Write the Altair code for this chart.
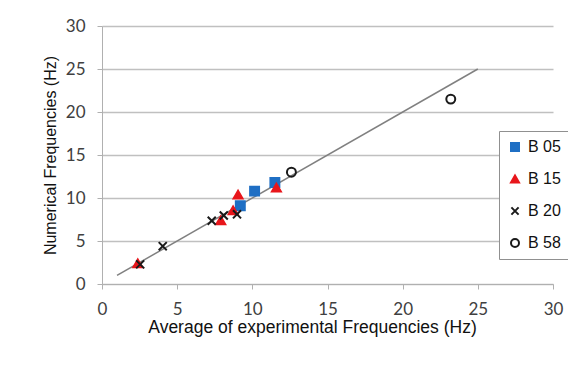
import altair as alt
import pandas as pd

# ---- data ----
series_names = ["B 05", "B 15", "B 20", "B 58"]
b05_x = [9.2, 10.15, 11.5]
b05_y = [9.1, 10.8, 11.8]
b15_x = [2.38, 7.9, 8.72, 9.05, 11.6]
b15_y = [2.4, 7.4, 8.55, 10.4, 11.2]
b20_x = [2.54, 4.04, 7.3, 8.1, 8.98]
b20_y = [2.28, 4.4, 7.35, 7.97, 8.1]
b58_x = [12.6, 23.2]
b58_y = [13.0, 21.5]
line_x = [1, 25]
line_y = [1, 25]
x_ticks = [0, 5, 10, 15, 20, 25, 30]
y_ticks = [0, 5, 10, 15, 20, 25, 30]

rows = []
for name, xs, ys in zip(series_names, [b05_x, b15_x, b20_x, b58_x], [b05_y, b15_y, b20_y, b58_y]):
    for a, b in zip(xs, ys):
        rows.append({"series": name, "x": a, "y": b})
pts = pd.DataFrame(rows)
ln = pd.DataFrame({"x": line_x, "y": line_y})

xcross = "M-0.9,-0.9L0.9,0.9M-0.9,0.9L0.9,-0.9"

xscale = alt.Scale(domain=[0, 30], nice=False)
yscale = alt.Scale(domain=[0, 30], nice=False)

xaxis = alt.Axis(values=x_ticks, grid=False, domainColor="#b0b0b0", tickColor="#b0b0b0",
                 tickSize=5, labelFont="Lato", labelFontSize=17, labelColor="#404040",
                 labelPadding=12, labelFlush=False,
                 title="Average of experimental Frequencies (Hz)",
                 titleFont="Liberation Sans", titleFontSize=17.5, titleFontWeight="normal",
                 titleColor="#111111", titleX=210, titleY=48, titleBaseline="alphabetic")
yaxis = alt.Axis(values=y_ticks, grid=True, gridColor="#c0c0c0", gridWidth=1.3,
                 domainColor="#b0b0b0", tickColor="#b0b0b0", tickSize=5,
                 labelFont="Lato", labelFontSize=17, labelColor="#404040", labelPadding=12,
                 labelFlush=False,
                 title="Numerical Frequencies (Hz)", titleFont="Liberation Sans",
                 titleFontSize=16, titleFontWeight="normal", titleColor="#111111",
                 titleX=-44, titleY=129, titleAngle=-90, titleBaseline="bottom")

line = alt.Chart(ln).mark_line(color="#808080", strokeWidth=1.5).encode(
    x=alt.X("x:Q", scale=xscale, axis=xaxis),
    y=alt.Y("y:Q", scale=yscale, axis=yaxis),
)

legend = alt.Legend(orient="none", legendX=397, legendY=105, title=None,
                    strokeColor="#909090", fillColor="white", padding=8,
                    labelFont="Liberation Sans", labelFontSize=16, labelColor="#111111",
                    rowPadding=16, symbolSize=64, symbolStrokeWidth=2, labelOffset=5)

points = alt.Chart(pts).mark_point(size=80, strokeWidth=2, opacity=1).encode(
    x=alt.X("x:Q", scale=xscale),
    y=alt.Y("y:Q", scale=yscale),
    shape=alt.Shape("series:N", scale=alt.Scale(domain=series_names,
                    range=["square", "triangle-up", xcross, "circle"]), legend=legend),
    fill=alt.Fill("series:N", scale=alt.Scale(domain=series_names,
                  range=["#1f6fc4", "#e8161b", "transparent", "transparent"]), legend=legend),
    stroke=alt.Stroke("series:N", scale=alt.Scale(domain=series_names,
                      range=["#1f6fc4", "#e8161b", "#1a1a1a", "#1a1a1a"]), legend=legend),
)

chart = alt.layer(line, points).properties(
    width=451, height=258,
    autosize=alt.AutoSizeParams(type="none"),
    padding={"left": 94, "top": 18, "right": 15, "bottom": 80},
    background="white",
).configure_view(stroke=None)

chart.save("out.html", embed_options={"renderer": "svg", "actions": False})
